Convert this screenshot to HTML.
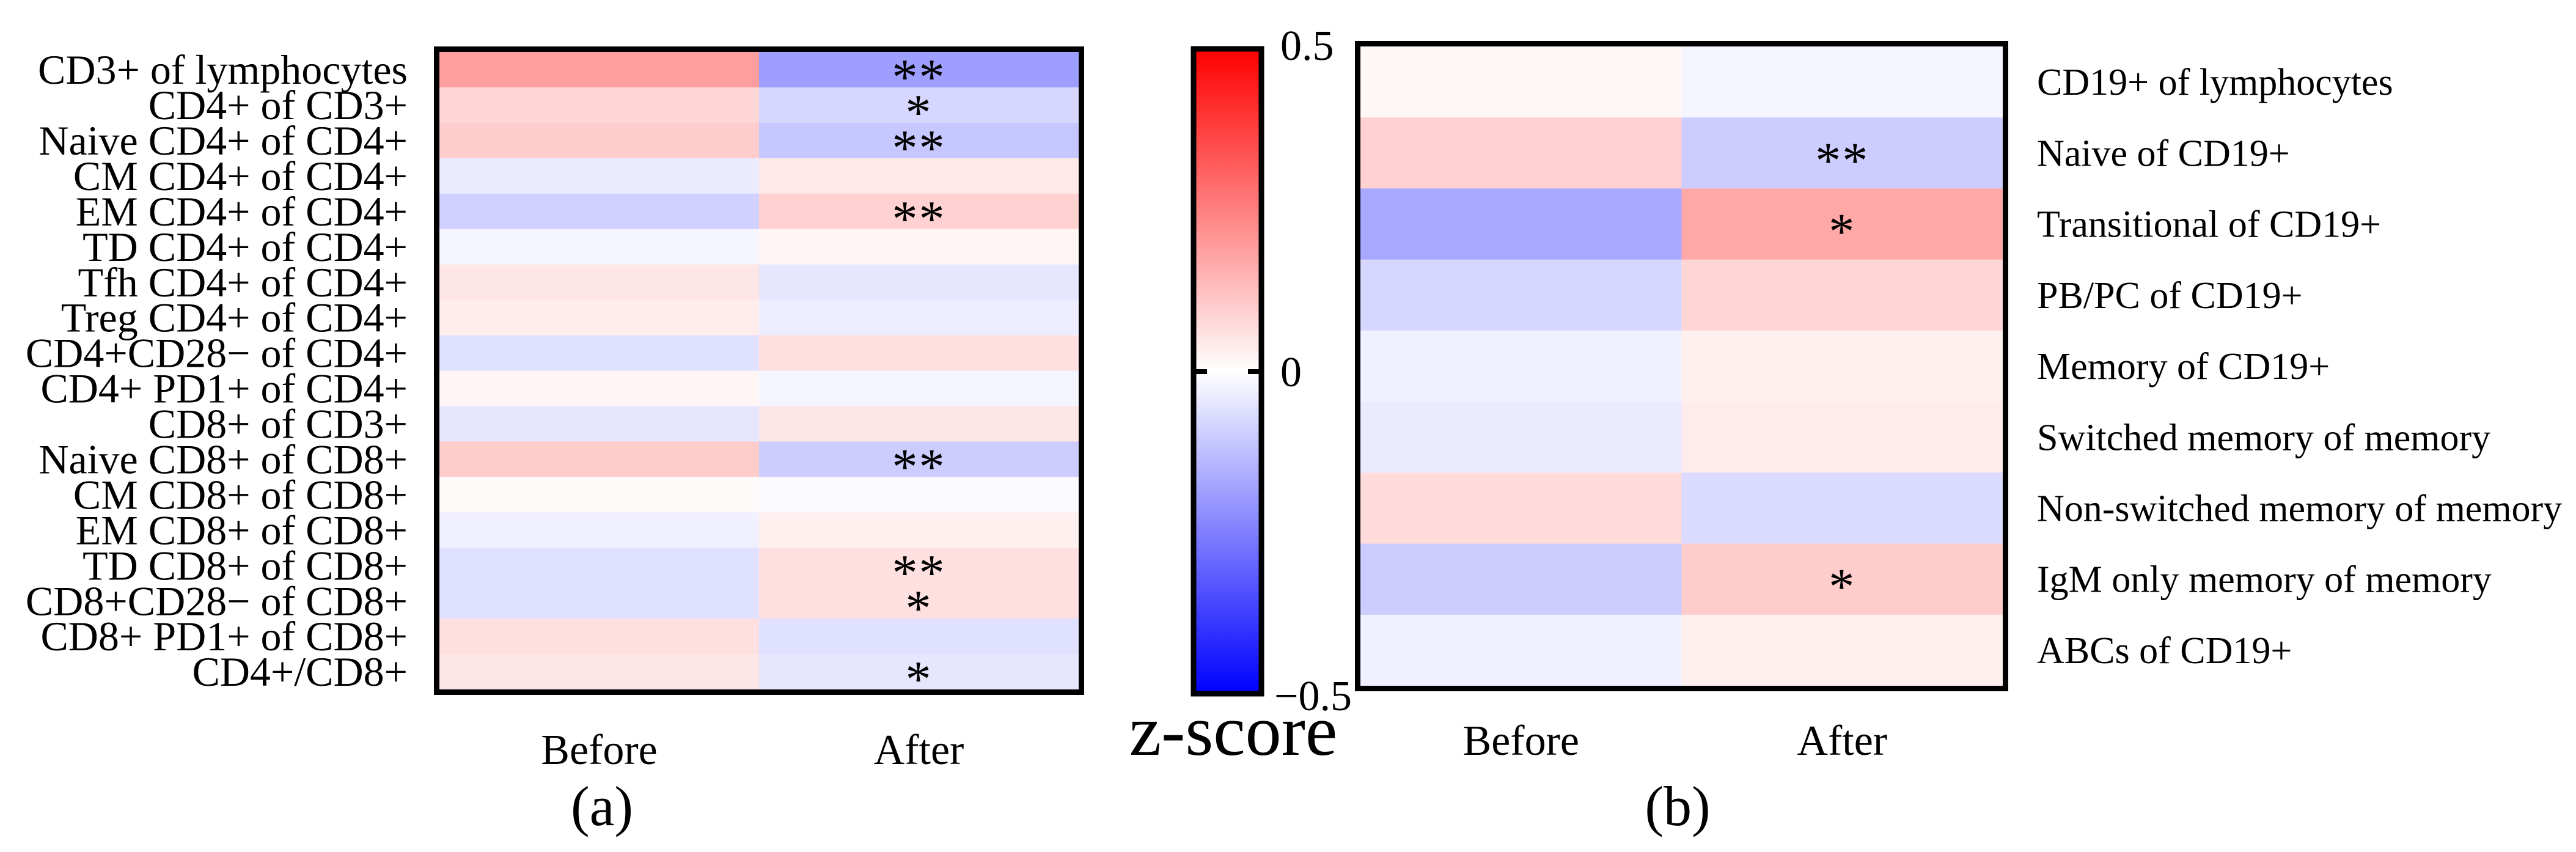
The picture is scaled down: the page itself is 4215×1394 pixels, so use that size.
<!DOCTYPE html>
<html><head><meta charset="utf-8"><style>
html,body{margin:0;padding:0;background:#fff;}
svg{display:block;}
text{font-family:"Liberation Serif",serif;fill:#000;}
</style></head><body>
<svg id="fig" width="4215" height="1394" viewBox="0 0 4215 1394" xmlns="http://www.w3.org/2000/svg" font-family="Liberation Serif, serif">
<defs>
<linearGradient id="cbgrad" x1="0" y1="0" x2="0" y2="1">
<stop offset="0" stop-color="#ff0000"/><stop offset="0.5" stop-color="#ffffff"/><stop offset="1" stop-color="#0000ff"/>
</linearGradient>
</defs>
<g id="panelA"></g>
<g id="panelB"></g>
<g>
<rect x="1953" y="80" width="111" height="1055" fill="url(#cbgrad)" stroke="#000" stroke-width="9"/>
<line x1="1949" y1="608" x2="1975" y2="608" stroke="#000" stroke-width="8"/>
<line x1="2042" y1="608" x2="2068" y2="608" stroke="#000" stroke-width="8"/>
<text x="2095" y="98" font-size="70">0.5</text>
<text x="2095" y="632" font-size="70">0</text>
<text x="2085" y="1162" font-size="70">−0.5</text>
<text x="2018" y="1235" font-size="118" text-anchor="middle">z-score</text>
</g>
<text x="985" y="1350" font-size="92" text-anchor="middle">(a)</text>
<text x="2745" y="1350" font-size="92" text-anchor="middle">(b)</text>
</svg>
<script>
const rowsA = ["CD3+ of lymphocytes","CD4+ of CD3+","Naive CD4+ of CD4+","CM CD4+ of CD4+","EM CD4+ of CD4+","TD CD4+ of CD4+","Tfh CD4+ of CD4+","Treg CD4+ of CD4+","CD4+CD28− of CD4+","CD4+ PD1+ of CD4+","CD8+ of CD3+","Naive CD8+ of CD8+","CM CD8+ of CD8+","EM CD8+ of CD8+","TD CD8+ of CD8+","CD8+CD28− of CD8+","CD8+ PD1+ of CD8+","CD4+/CD8+"];
const beforeA = [0.19,0.08,0.10,-0.04,-0.09,-0.02,0.05,0.035,-0.06,0.02,-0.05,0.10,0.01,-0.03,-0.06,-0.06,0.06,0.05];
const afterA = [-0.19,-0.08,-0.11,0.045,0.09,0.02,-0.05,-0.035,0.06,-0.02,0.05,-0.10,-0.01,0.03,0.06,0.06,-0.06,-0.05];
const sigA = ["**","*","**","","**","","","","","","","**","","","**","*","","*"];
const rowsB = ["CD19+ of lymphocytes","Naive of CD19+","Transitional of CD19+","PB/PC of CD19+","Memory of CD19+","Switched memory of memory","Non-switched memory of memory","IgM only memory of memory","ABCs of CD19+"];
const beforeB = [0.015,0.09,-0.17,-0.08,-0.03,-0.04,0.07,-0.10,-0.03];
const afterB = [-0.02,-0.10,0.17,0.08,0.03,0.04,-0.07,0.10,0.03];
const sigB = ["","**","*","","","","","*",""];
const colLabels = ["Before","After"];

const NS = "http://www.w3.org/2000/svg";
function color(v){
  let t = Math.max(-1, Math.min(1, v/0.5));
  if (t >= 0){ const c = Math.round(255*(1-t)); return `rgb(255,${c},${c})`; }
  const c = Math.round(255*(1+t)); return `rgb(${c},${c},255)`;
}
function mk(tag, attrs, parent){
  const e = document.createElementNS(NS, tag);
  for (const k in attrs) e.setAttribute(k, attrs[k]);
  parent.appendChild(e); return e;
}
function draw(g, cfg){
  const {x0,y0,x1,y1,rows,before,after,sig,labelX,anchor,labelSize,colY,colSize} = cfg;
  const n = rows.length, rh = (y1-y0)/n, xm = (x0+x1)/2;
  const xs = [x0, xm], w = [xm-x0, x1-xm];
  const vals = [before, after];
  for (let i=0;i<n;i++){
    for (let c=0;c<2;c++){
      const r = mk('rect',{x:xs[c],y:y0+i*rh,width:w[c]+0.5,height:rh+0.5,fill:color(vals[c][i])},g);
      
      
    }
    const t = mk('text',{x:labelX,y:y0+i*rh+rh/2+labelSize*0.34,'font-size':labelSize,'text-anchor':anchor},g);
    t.textContent = rows[i];
    
    
    if (sig[i]){
      const s = mk('text',{x:xm+w[1]/2,y:y0+i*rh+rh/2+40,'font-size':84,'text-anchor':'middle','letter-spacing':2},g);
      s.textContent = sig[i];
      
      
    }
  }
  const b = mk('rect',{x:x0-4.5,y:y0-4.5,width:x1-x0+9,height:y1-y0+9,fill:'none',stroke:'#000','stroke-width':9},g);
  
  
  for (let c=0;c<2;c++){
    const t = mk('text',{x:xs[c]+w[c]/2,y:colY,'font-size':colSize,'text-anchor':'middle'},g);
    t.textContent = colLabels[c];
    
    
  }
}
draw(document.getElementById('panelA'),{x0:719,y0:85,x1:1765,y1:1128,rows:rowsA,before:beforeA,after:afterA,sig:sigA,labelX:667,anchor:'end',labelSize:68,colY:1250,colSize:70});
draw(document.getElementById('panelB'),{x0:2226,y0:76,x1:3277,y1:1122,rows:rowsB,before:beforeB,after:afterB,sig:sigB,labelX:3333,anchor:'start',labelSize:62,colY:1235,colSize:70});
</script>
</body></html>
